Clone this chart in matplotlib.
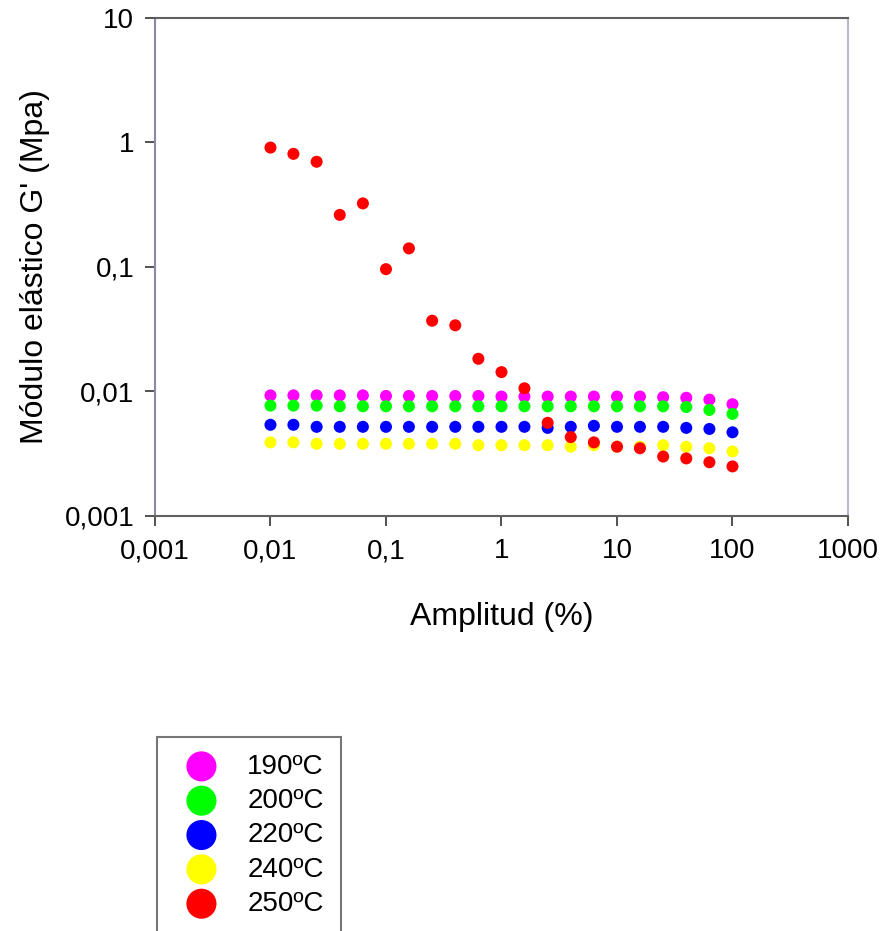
import numpy as np
import matplotlib
matplotlib.use("Agg")
import matplotlib.pyplot as plt

plt.rcParams['font.family'] = ['Liberation Sans', 'DejaVu Sans']

# amplitude (%) - 5 points per decade from 0.01 to 100
amplitud = [0.01, 0.0158, 0.0251, 0.0398, 0.0631, 0.1, 0.158, 0.251, 0.398, 0.631,
            1.0, 1.58, 2.51, 3.98, 6.31, 10.0, 15.8, 25.1, 39.8, 63.1, 100.0]

g190 = [0.0093, 0.0093, 0.0093, 0.0093, 0.0093, 0.0092, 0.0092, 0.0092, 0.0092, 0.0092,
        0.0091, 0.0091, 0.0091, 0.0091, 0.0091, 0.0091, 0.0091, 0.0090, 0.0089, 0.0086, 0.0079]
g200 = [0.0077, 0.0077, 0.0077, 0.0076, 0.0076, 0.0076, 0.0076, 0.0076, 0.0076, 0.0076,
        0.0076, 0.0076, 0.0076, 0.0076, 0.0076, 0.0076, 0.0076, 0.0076, 0.0075, 0.0071, 0.0066]
g220 = [0.0054, 0.0054, 0.0052, 0.0052, 0.0052, 0.0052, 0.0052, 0.0052, 0.0052, 0.0052,
        0.0052, 0.0052, 0.0051, 0.0052, 0.0053, 0.0052, 0.0052, 0.0052, 0.0051, 0.0050, 0.0047]
g240 = [0.0039, 0.0039, 0.0038, 0.0038, 0.0038, 0.0038, 0.0038, 0.0038, 0.0038, 0.0037,
        0.0037, 0.0037, 0.0037, 0.0036, 0.0037, 0.0036, 0.0036, 0.0037, 0.0036, 0.0035, 0.0033]
g250 = [0.91, 0.81, 0.70, 0.262, 0.324, 0.096, 0.141, 0.037, 0.034, 0.0183,
        0.0143, 0.0106, 0.0056, 0.0043, 0.0039, 0.0036, 0.0035, 0.0030, 0.0029, 0.0027, 0.0025]

series = [g190, g200, g220, g240, g250]
labels = ['190ºC', '200ºC', '220ºC', '240ºC', '250ºC']
colors = ['#ff00ff', '#00ff00', '#0000ff', '#ffff00', '#ff0000']

xticks = [0.001, 0.01, 0.1, 1, 10, 100, 1000]
xticklabels = ['0,001', '0,01', '0,1', '1', '10', '100', '1000']
yticks = [0.001, 0.01, 0.1, 1, 10]
yticklabels = ['0,001', '0,01', '0,1', '1', '10']

fig = plt.figure(figsize=(8.85, 9.31), dpi=100)
ax = fig.add_axes([0.1751, 0.4458, 0.7831, 0.5349])

for vals, lab, col in zip(series, labels, colors):
    ax.scatter(amplitud, vals, s=75, color=col, edgecolors='none', label=lab)

ax.set_xscale('log')
ax.set_yscale('log')
ax.set_xlim(0.001, 1000)
ax.set_ylim(0.001, 10)
ax.set_xticks(xticks)
ax.set_xticklabels(xticklabels)
ax.set_yticks(yticks)
ax.set_yticklabels(yticklabels)
ax.minorticks_off()
ax.tick_params(labelsize=20, length=7, width=1.2, color='#333333', pad=9)
ax.tick_params(axis='y', pad=8)

ax.spines['left'].set_color('#8a8aa8')
ax.spines['right'].set_color('#b8b8d0')
ax.spines['top'].set_color('#606060')
ax.spines['bottom'].set_color('#606060')
for sp in ax.spines.values():
    sp.set_linewidth(1.5)

ax.set_xlabel('Amplitud (%)', fontsize=23, labelpad=27)
ax.set_ylabel("Módulo elástico G' (Mpa)", fontsize=23, labelpad=10)

handles, labs = ax.get_legend_handles_labels()
leg = fig.legend(handles, labs, loc='upper left', bbox_to_anchor=(157 / 885, 1 - 737 / 931),
                 fontsize=20, markerscale=2.5, frameon=True, fancybox=False,
                 edgecolor='#555555', labelspacing=0.3, handletextpad=0.65,
                 borderpad=0.6, borderaxespad=0, handlelength=2.0)
leg.get_frame().set_linewidth(1.5)

fig.savefig('out.png', dpi=100)
